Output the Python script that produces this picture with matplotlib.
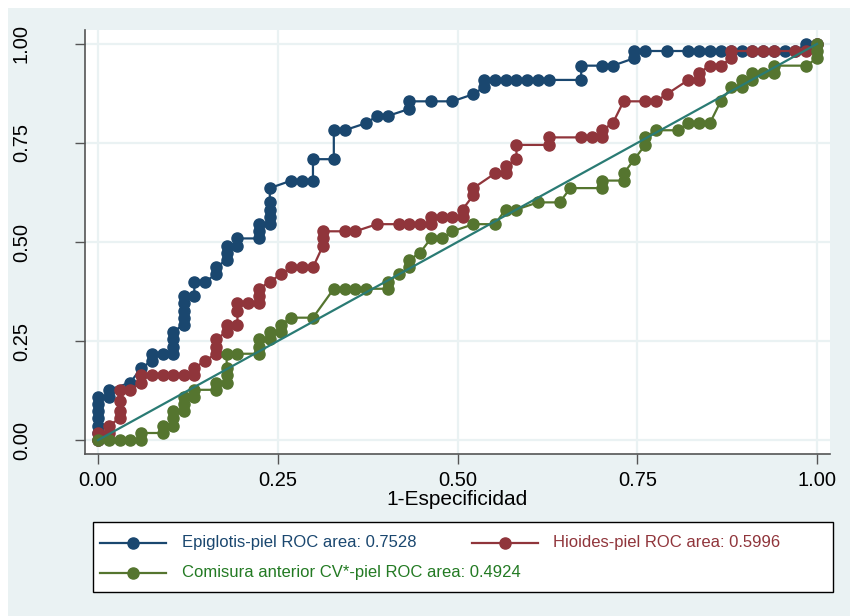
import matplotlib.pyplot as plt
from matplotlib.patches import Rectangle
from matplotlib.lines import Line2D

plt.rcParams['font.family'] = ['Liberation Sans', 'DejaVu Sans']

# ROC points (1-especificidad, sensibilidad)
epi_x = [0, 0, 0, 0, 0, 0, 0, 0.015, 0.015, 0.045, 0.06, 0.075, 0.075, 0.09,
         0.104, 0.104, 0.104, 0.104, 0.119, 0.119, 0.119, 0.119, 0.119, 0.134,
         0.134, 0.149, 0.164, 0.164, 0.179, 0.179, 0.179, 0.194, 0.194, 0.224,
         0.224, 0.224, 0.239, 0.239, 0.239, 0.239, 0.239, 0.269, 0.284, 0.299,
         0.299, 0.328, 0.328, 0.343, 0.373, 0.388, 0.403, 0.433, 0.433, 0.463,
         0.493, 0.522, 0.537, 0.537, 0.552, 0.567, 0.582, 0.597, 0.612, 0.627,
         0.672, 0.672, 0.701, 0.716, 0.746, 0.746, 0.761, 0.791, 0.821, 0.836,
         0.851, 0.866, 0.881, 0.896, 0.91, 0.925, 0.94, 0.955, 0.97, 0.985, 1]
epi_y = [0, 0.018, 0.036, 0.055, 0.073, 0.091, 0.109, 0.109, 0.127, 0.145,
         0.182, 0.2, 0.218, 0.218, 0.218, 0.236, 0.255, 0.273, 0.291, 0.309,
         0.327, 0.345, 0.364, 0.364, 0.4, 0.4, 0.418, 0.436, 0.455, 0.473,
         0.491, 0.491, 0.509, 0.509, 0.527, 0.545, 0.545, 0.564, 0.582, 0.6,
         0.636, 0.655, 0.655, 0.655, 0.709, 0.709, 0.782, 0.782, 0.8, 0.818,
         0.818, 0.836, 0.855, 0.855, 0.855, 0.873, 0.891, 0.909, 0.909, 0.909,
         0.909, 0.909, 0.909, 0.909, 0.909, 0.945, 0.945, 0.945, 0.964, 0.982,
         0.982, 0.982, 0.982, 0.982, 0.982, 0.982, 0.982, 0.982, 0.982, 0.982,
         0.982, 0.982, 0.982, 1, 1]

hio_x = [0, 0, 0.015, 0.015, 0.03, 0.03, 0.03, 0.03, 0.045, 0.06, 0.06, 0.075,
         0.09, 0.104, 0.119, 0.134, 0.134, 0.149, 0.164, 0.164, 0.164, 0.179,
         0.179, 0.194, 0.194, 0.194, 0.209, 0.224, 0.224, 0.224, 0.239, 0.254,
         0.269, 0.284, 0.299, 0.313, 0.313, 0.313, 0.343, 0.358, 0.388, 0.418,
         0.433, 0.448, 0.463, 0.463, 0.478, 0.493, 0.507, 0.507, 0.522, 0.522,
         0.552, 0.567, 0.567, 0.582, 0.582, 0.627, 0.627, 0.672, 0.687, 0.701,
         0.701, 0.716, 0.731, 0.761, 0.776, 0.791, 0.821, 0.836, 0.836, 0.851,
         0.866, 0.881, 0.881, 0.91, 0.925, 0.94, 0.97, 0.985, 1]
hio_y = [0, 0.018, 0.018, 0.036, 0.055, 0.073, 0.1, 0.127, 0.127, 0.145,
         0.164, 0.164, 0.164, 0.164, 0.164, 0.164, 0.182, 0.2, 0.218, 0.236,
         0.255, 0.273, 0.291, 0.291, 0.327, 0.345, 0.345, 0.345, 0.364, 0.382,
         0.4, 0.418, 0.436, 0.436, 0.436, 0.491, 0.509, 0.527, 0.527, 0.527,
         0.545, 0.545, 0.545, 0.545, 0.545, 0.564, 0.564, 0.564, 0.564, 0.582,
         0.618, 0.636, 0.673, 0.673, 0.691, 0.709, 0.745, 0.745, 0.764, 0.764,
         0.764, 0.764, 0.782, 0.8, 0.855, 0.855, 0.855, 0.873, 0.909, 0.909,
         0.927, 0.945, 0.945, 0.964, 0.982, 0.982, 0.982, 0.982, 0.982, 0.982, 1]

com_x = [0, 0.015, 0.03, 0.045, 0.06, 0.06, 0.09, 0.09, 0.104, 0.104, 0.104,
         0.119, 0.119, 0.119, 0.134, 0.134, 0.164, 0.164, 0.179, 0.179, 0.179,
         0.179, 0.194, 0.224, 0.224, 0.224, 0.239, 0.239, 0.254, 0.254, 0.269,
         0.299, 0.328, 0.343, 0.358, 0.373, 0.403, 0.403, 0.418, 0.433, 0.433,
         0.448, 0.463, 0.478, 0.493, 0.522, 0.552, 0.567, 0.582, 0.612, 0.642,
         0.657, 0.701, 0.701, 0.731, 0.731, 0.746, 0.761, 0.761, 0.776, 0.806,
         0.821, 0.836, 0.851, 0.866, 0.881, 0.896, 0.896, 0.91, 0.91, 0.925,
         0.94, 0.94, 0.985, 1, 1, 1]
com_y = [0, 0, 0, 0, 0, 0.018, 0.018, 0.036, 0.036, 0.055, 0.073, 0.073,
         0.091, 0.109, 0.109, 0.127, 0.127, 0.145, 0.145, 0.164, 0.182, 0.218,
         0.218, 0.218, 0.236, 0.255, 0.255, 0.273, 0.273, 0.291, 0.309, 0.309,
         0.382, 0.382, 0.382, 0.382, 0.382, 0.4, 0.418, 0.436, 0.455, 0.473,
         0.509, 0.509, 0.527, 0.545, 0.545, 0.582, 0.582, 0.6, 0.6, 0.636,
         0.636, 0.655, 0.655, 0.673, 0.709, 0.745, 0.764, 0.782, 0.782, 0.8,
         0.8, 0.8, 0.855, 0.891, 0.891, 0.909, 0.909, 0.927, 0.927, 0.927,
         0.945, 0.945, 0.964, 0.982, 1]

labels = ['Epiglotis-piel ROC area: 0.7528',
          'Hioides-piel ROC area: 0.5996',
          'Comisura anterior CV*-piel ROC area: 0.4924']
ticks = [0, 0.25, 0.5, 0.75, 1]
tick_labels = ['0.00', '0.25', '0.50', '0.75', '1.00']

bg = '#eaf2f3'
c_epi = '#1a476f'
c_hio = '#90353b'
c_com = '#55752f'
c_ref = '#2a7b74'
txt_colors = [c_epi, c_hio, '#237a23']

W, H = 850, 616
fig = plt.figure(figsize=(W / 100, H / 100), dpi=100, facecolor=bg)
fig.patches.append(Rectangle((0, 1 - 8 / H), 1, 8 / H, transform=fig.transFigure,
                             facecolor='white', edgecolor='none', zorder=0))
fig.patches.append(Rectangle((0, 0), 8 / W, 1, transform=fig.transFigure,
                             facecolor='white', edgecolor='none', zorder=0))

ax = fig.add_axes([85 / W, 1 - 454 / H, 745 / W, 424 / H])
ax.set_facecolor('white')

kw = dict(marker='o', markersize=8, linewidth=1.6, clip_on=False)
ax.plot(epi_x, epi_y, color=c_epi, zorder=2, **kw)
ax.plot(hio_x, hio_y, color=c_hio, zorder=3, **kw)
ax.plot(com_x, com_y, color=c_com, zorder=4, **kw)
ax.plot([0, 1], [0, 1], color=c_ref, linewidth=1.6, zorder=5)

ax.set_xlim(-0.018, 1.018)
ax.set_ylim(-0.035, 1.035)
ax.set_xticks(ticks)
ax.set_xticklabels(tick_labels)
ax.set_yticks(ticks)
ax.set_yticklabels(tick_labels, rotation=90, va='center')
ax.grid(True, color=bg, linewidth=1.6, zorder=0)
ax.set_axisbelow(True)

for s in ['top', 'right']:
    ax.spines[s].set_visible(False)
for s in ['left', 'bottom']:
    ax.spines[s].set_color('#555555')
    ax.spines[s].set_linewidth(1.2)

ax.tick_params(axis='both', length=7, width=1, color='#555555', labelsize=14.5)
ax.tick_params(axis='y', pad=32)
ax.tick_params(axis='x', pad=5)
ax.set_xlabel('1-Especificidad', fontsize=15, labelpad=0)

# legend drawn by hand, Stata style: box, two rows
def fx(px):
    return px / W

def fy(py):
    return 1 - py / H

fig.patches.append(Rectangle((fx(93), fy(592)), fx(833) - fx(93), fy(522) - fy(592),
                             transform=fig.transFigure, facecolor='white',
                             edgecolor='black', linewidth=1.0, zorder=1))
entries = [(100, 543, c_epi), (472, 543, c_hio), (100, 573, c_com)]
for (hx, hy, col), lab, tcol in zip(entries, labels, txt_colors):
    fig.add_artist(Line2D([fx(hx), fx(hx + 66)], [fy(hy), fy(hy)], color=col,
                          linewidth=1.6, transform=fig.transFigure, zorder=2))
    fig.add_artist(Line2D([fx(hx + 33)], [fy(hy)], color=col, marker='o',
                          markersize=8, transform=fig.transFigure, zorder=3))
    tx = hx + 82 if hx == 100 else hx + 81
    fig.text(fx(tx), fy(hy), lab, color=tcol, fontsize=12, va='center',
             ha='left', zorder=3)

fig.savefig('out.png', dpi=100, facecolor=bg)
